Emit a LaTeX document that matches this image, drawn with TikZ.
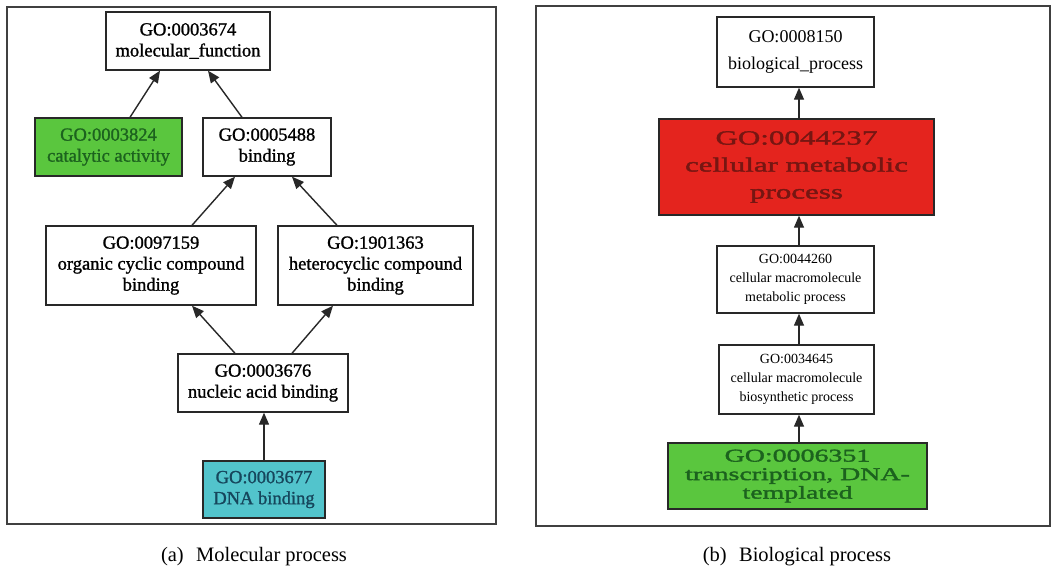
\documentclass[tikz,border=0pt]{standalone}
\usepackage{fontspec}
\setmainfont{Liberation Serif}
\newfontfamily\leftfont[FakeBold=1.2]{Liberation Serif}
\newfontfamily\widefont[FakeStretch=1.55,FakeBold=2]{Liberation Serif}
\usetikzlibrary{arrows.meta}
\definecolor{gfill}{RGB}{90,198,62}
\definecolor{gtext}{RGB}{28,98,30}
\definecolor{cfill}{RGB}{82,196,204}
\definecolor{ctext}{RGB}{22,70,92}
\definecolor{rfill}{RGB}{228,36,30}
\definecolor{rtext}{RGB}{118,22,18}
\definecolor{edge}{RGB}{40,40,40}
\tikzset{
  gonode/.style={draw=edge, line width=1.4pt, align=center, inner sep=0pt},
  lnode/.style={gonode, font={\leftfont\fontsize{18.5}{21}\selectfont}},
  snode/.style={gonode, font={\fontsize{14}{19}\selectfont}},
  arr/.style={-{Triangle[length=12pt,width=10pt]}, line width=1.4pt, draw=edge},
  panel/.style={draw=black!75, line width=2.2pt},
  captext/.style={font={\fontsize{20.5}{24}\selectfont}}
}
\begin{document}
\begin{tikzpicture}[x=1pt,y=-1pt]
\useasboundingbox[fill=white] (0,0) rectangle (1053,573);
% panels
\draw[panel] (7,7) rectangle (496,524);
\draw[panel] (536,6) rectangle (1050,526);
% left panel
\node[lnode, minimum width=164pt, minimum height=58pt] (mf) at (188,41) {GO:0003674\\molecular\_function};
\node[lnode, fill=gfill, text=gtext, minimum width=147pt, minimum height=58pt] (ca) at (108.5,147) {GO:0003824\\catalytic activity};
\node[lnode, minimum width=128pt, minimum height=58pt] (bi) at (267,147) {GO:0005488\\binding};
\node[lnode, minimum width=210pt, minimum height=79pt] (oc) at (151,265.5) {GO:0097159\\organic cyclic compound\\binding};
\node[lnode, minimum width=195pt, minimum height=79pt] (hc) at (375.5,265.5) {GO:1901363\\heterocyclic compound\\binding};
\node[lnode, minimum width=170pt, minimum height=58pt] (na) at (263,383) {GO:0003676\\nucleic acid binding};
\node[lnode, fill=cfill, text=ctext, minimum width=122pt, minimum height=57pt] (dna) at (264,489.5) {GO:0003677\\DNA binding};
\draw[arr] ([xshift=21.5pt]ca.north) -- ([xshift=-28pt]mf.south);
\draw[arr] ([xshift=-25pt]bi.north) -- ([xshift=20pt]mf.south);
\draw[arr] ([xshift=41pt]oc.north) -- ([xshift=-32pt]bi.south);
\draw[arr] ([xshift=-38.5pt]hc.north) -- ([xshift=25pt]bi.south);
\draw[arr] ([xshift=-28pt]na.north) -- ([xshift=41pt]oc.south);
\draw[arr] ([xshift=29pt]na.north) -- ([xshift=-42.5pt]hc.south);
\draw[arr] (dna.north) -- (dna.north |- na.south);
% right panel
\node[gonode, font={\fontsize{18}{27}\selectfont}, minimum width=157pt, minimum height=70pt] (bp) at (795.5,52) {GO:0008150\\biological\_process};
\node[gonode, fill=rfill, text=rtext, font={\widefont\fontsize{20}{27}\selectfont}, minimum width=275pt, minimum height=96pt] (cm) at (796.5,167) {GO:0044237\\cellular metabolic\\process};
\node[snode, minimum width=157pt, minimum height=67pt] (mm) at (795.5,279.5) {GO:0044260\\cellular macromolecule\\metabolic process};
\node[snode, minimum width=155pt, minimum height=69pt] (bs) at (796.5,379.5) {GO:0034645\\cellular macromolecule\\biosynthetic process};
\node[gonode, fill=gfill, text=gtext, font={\widefont\fontsize{18}{18.5}\selectfont}, minimum width=259pt, minimum height=66pt] (tr) at (797.5,476) {GO:0006351\\transcription, DNA-\\templated};
\coordinate (ax) at (799,0);
\draw[arr] (ax |- cm.north) -- (ax |- bp.south);
\draw[arr] (ax |- mm.north) -- (ax |- cm.south);
\draw[arr] (ax |- bs.north) -- (ax |- mm.south);
\draw[arr] (ax |- tr.north) -- (ax |- bs.south);
% captions
\node[captext] (capa) at (254,557) {(a)\hspace{0.6em}Molecular process};
\node[captext] (capb) at (797,557) {(b)\hspace{0.6em}Biological process};
\end{tikzpicture}
\end{document}
